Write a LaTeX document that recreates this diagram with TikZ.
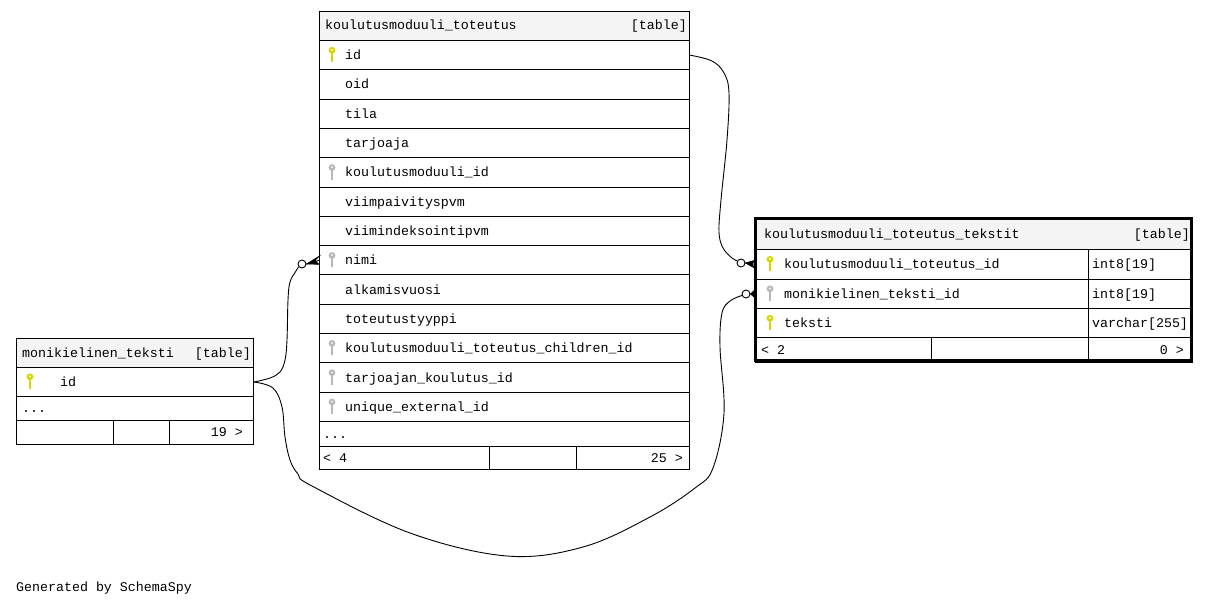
\documentclass[tikz,border=0pt]{standalone}
\usepackage{fontspec}
\setmonofont{Liberation Mono}
\usetikzlibrary{calc}
\definecolor{pkcol}{RGB}{214,214,0}
\definecolor{fkcol}{RGB}{184,184,184}
\definecolor{hdrcol}{RGB}{244,244,244}
\tikzset{
  cell/.style={draw, fill=white, anchor=north west, inner sep=0pt, line width=1pt},
  hcell/.style={cell, fill=hdrcol},
  txt/.style={anchor=base west, inner sep=0pt, font=\fontsize{13.3}{15}\selectfont\ttfamily},
  rtxt/.style={txt, anchor=base east},
  link/.style={line width=0.9pt},
  crowfill/.style={fill=black, line width=0.6pt, draw=black},
  odot/.style={circle, draw, fill=white, inner sep=0pt, minimum size=8pt, line width=0.9pt},
  pics/keyic/.style={code={
    \fill[#1] (0,-4.2) circle (3.4);
    \fill[white] (0,-4.6) circle (1);
    \fill[#1] (-1.3,-2) rectangle (1.3,7.8);}},
}
\begin{document}
\begin{tikzpicture}[x=1pt,y=-1pt]
\useasboundingbox (0,0) rectangle (1211,605);
\fill[white] (0,0) rectangle (1211,605);

% ---------- main table ----------
\node[hcell, minimum width=370pt, minimum height=29pt] (mh) at (319,11) {};
\node[txt] (mht) at (325,30) {koulutusmoduuli\_toteutus};
\node[rtxt] (mhr) at (687,30) {[table]};
\def\nokey{no}
\foreach \nm/\k [count=\i from 0] in {id/pkcol, oid/no, tila/no, tarjoaja/no,
   koulutusmoduuli\_id/fkcol, viimpaivityspvm/no, viimindeksointipvm/no, nimi/fkcol,
   alkamisvuosi/no, toteutustyyppi/no, koulutusmoduuli\_toteutus\_children\_id/fkcol,
   tarjoajan\_koulutus\_id/fkcol, unique\_external\_id/fkcol}{
  \pgfmathsetmacro\yy{40+\i*29.31}
  \node[cell, minimum width=370pt, minimum height=29.31pt] (m\i) at (319,\yy) {};
  \node[txt] (mt\i) at (345,\yy+19.6) {\nm};
  \ifx\k\nokey\else \pic at (332,\yy+14.5) {keyic=\k}; \fi
}
\node[cell, minimum width=370pt, minimum height=25pt] (mdots) at (319,421) {};
\node[txt] (mdotst) at (323,438) {...};
\node[cell, minimum width=170pt, minimum height=23pt] (mf1) at (319,446) {};
\node[cell, minimum width=87pt, minimum height=23pt] (mf2) at (489,446) {};
\node[cell, minimum width=113pt, minimum height=23pt] (mf3) at (576,446) {};
\node[txt] (mf1t) at (323,462) {< 4};
\node[rtxt] (mf3t) at (683,462) {25 >};

% ---------- left table ----------
\node[hcell, minimum width=237pt, minimum height=29pt] (lh) at (16,338) {};
\node[txt] (lht) at (22,357) {monikielinen\_teksti};
\node[rtxt] (lhr) at (251,357) {[table]};
\node[cell, minimum width=237pt, minimum height=29pt] (l1) at (16,367) {};
\pic at (30,381) {keyic=pkcol};
\node[txt] (l1t) at (60,386) {id};
\node[cell, minimum width=237pt, minimum height=24pt] (ldots) at (16,396) {};
\node[txt] (ldotst) at (22,412) {...};
\node[cell, minimum width=97pt, minimum height=24pt] (lf1) at (16,420) {};
\node[cell, minimum width=56pt, minimum height=24pt] (lf2) at (113,420) {};
\node[cell, minimum width=84pt, minimum height=24pt] (lf3) at (169,420) {};
\node[rtxt] (lf3t) at (243,436.5) {19 >};

% ---------- right table ----------
\node[hcell, minimum width=437pt, minimum height=31pt] (rh) at (755,218) {};
\node[txt] (rht) at (764,238) {koulutusmoduuli\_toteutus\_tekstit};
\node[rtxt] (rhr) at (1190,238) {[table]};
\foreach \nm/\ty/\k [count=\i from 1] in {koulutusmoduuli\_toteutus\_id/int8[19]/pkcol,
    monikielinen\_teksti\_id/int8[19]/fkcol, teksti/varchar[255]/pkcol}{
  \pgfmathsetmacro\yy{249+(\i-1)*29.5}
  \node[cell, minimum width=333pt, minimum height=29.5pt] (r\i) at (755,\yy) {};
  \node[cell, minimum width=104pt, minimum height=29.5pt] (rt\i) at (1088,\yy) {};
  \pic at (770,\yy+14.5) {keyic=\k};
  \node[txt] (rn\i) at (784,\yy+19.6) {\nm};
  \node[txt] (rty\i) at (1092,\yy+19.6) {\ty};
}
\node[cell, minimum width=176pt, minimum height=24.5pt] (rf1) at (755,337) {};
\node[cell, minimum width=157pt, minimum height=24.5pt] (rf2) at (931,337) {};
\node[cell, minimum width=104pt, minimum height=24.5pt] (rf3) at (1088,337) {};
\node[txt] (rf1t) at (761,354) {< 2};
\node[rtxt] (rf3t) at (1184,354) {0 >};
\draw[line width=3pt] (755.5,218.5) rectangle (1191.5,360.5);

% ---------- connectors ----------
\node[odot] (c1) at (741,263) {};
\node[odot] (c2) at (302,264) {};
\node[odot] (c3) at (746,294) {};

\draw[link] plot[smooth, tension=0.6] coordinates {(m0.east) (712,61) (724,73) (729,93)
  (727,140) (721,200) (719,232) (723,248) (732,258) (c1.150)};
\draw[crowfill] (c1.east) -- ($(r1.west)+(0,-4)$) -- ($(r1.west)+(-3,0)$)
  -- ($(r1.west)+(0,4)$) -- cycle;
\draw[link] (c1.east) -- (r1.west);

\draw[link] plot[smooth, tension=0.6] coordinates {(l1.east) (270,378) (280,372) (285,360)
  (287,340) (288,300) (290,282) (296,271) (c2.220)};
\draw[crowfill] (c2.east) -- ($(m7.west)+(0,-4)$) -- ($(m7.west)+(-4,0)$)
  -- ($(m7.west)+(0,4)$) -- cycle;
\draw[link] (c2.east) -- (m7.west);

\draw[link] plot[smooth, tension=0.6] coordinates {(l1.east) (273,388) (282,407) (285,437)
  (290,460) (298,474) (312,486) (410,533) (507,556) (583,547) (650,517) (695,488)
  (713,468) (724,413) (720,347) (722,313) (730,301) (c3.200)};
\draw[crowfill] (c3.east) -- ($(r2.west)+(0,-4)$) -- ($(r2.west)+(-2,0)$)
  -- ($(r2.west)+(0,4)$) -- cycle;
\draw[link] (c3.east) -- (r2.west);

\node[txt] (gen) at (16,591) {Generated by SchemaSpy};
\end{tikzpicture}
\end{document}
